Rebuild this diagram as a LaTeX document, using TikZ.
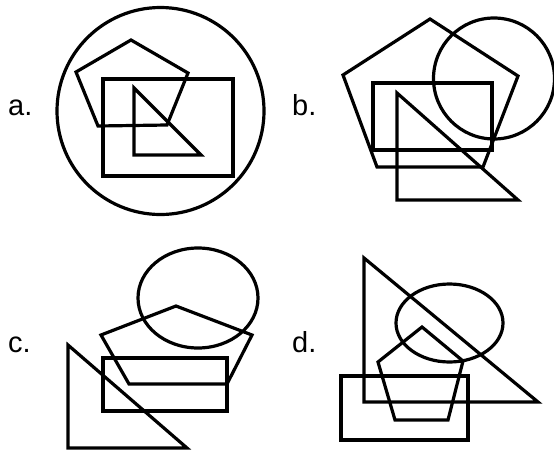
\documentclass[tikz,border=0pt]{standalone}
\usepackage{fontspec}
\setmainfont{Liberation Sans}
\begin{document}
\begin{tikzpicture}[x=1pt,y=-1pt,
  figline/.style={draw=black,line width=3.2pt},
  lbl/.style={font=\fontsize{29}{31}\selectfont,inner sep=0pt,anchor=base west}]
\useasboundingbox (0,0) rectangle (554,450);
% a
\node[lbl] (la) at (8,115) {a.};
\draw[figline] (160.5,111) circle[radius=103.5];
\draw[figline] (131,40) -- (188,73) -- (167,125) -- (98,126) -- (76,72) -- cycle;
\draw[figline] (103,79) rectangle (233,176);
\draw[figline] (134,88) -- (134,155) -- (201,155) -- cycle;
% b
\node[lbl] (lb) at (292,115) {b.};
\draw[figline] (430,19) -- (518,76) -- (483,167) -- (377,167) -- (343,75) -- cycle;
\draw[figline] (494,78.5) circle[radius=60.5];
\draw[figline] (373,83) rectangle (492,150);
\draw[figline] (397,93) -- (397,200) -- (518,200) -- cycle;
% c
\node[lbl] (lc) at (8,352) {c.};
\draw[figline] (198,298) ellipse[x radius=60,y radius=50];
\draw[figline] (176,306) -- (252,335) -- (227,384) -- (129,384) -- (101,335) -- cycle;
\draw[figline] (103,358) rectangle (227,411);
\draw[figline] (68,345) -- (68,448) -- (187,448) -- cycle;
% d
\node[lbl] (ld) at (292,352) {d.};
\draw[figline] (364,258) -- (364,402) -- (538,402) -- cycle;
\draw[figline] (449.5,323) ellipse[x radius=53.5,y radius=39];
\draw[figline] (422,327) -- (463,361) -- (448,420) -- (395,420) -- (378,362) -- cycle;
\draw[figline] (341,376) rectangle (468,440);
\end{tikzpicture}
\end{document}
